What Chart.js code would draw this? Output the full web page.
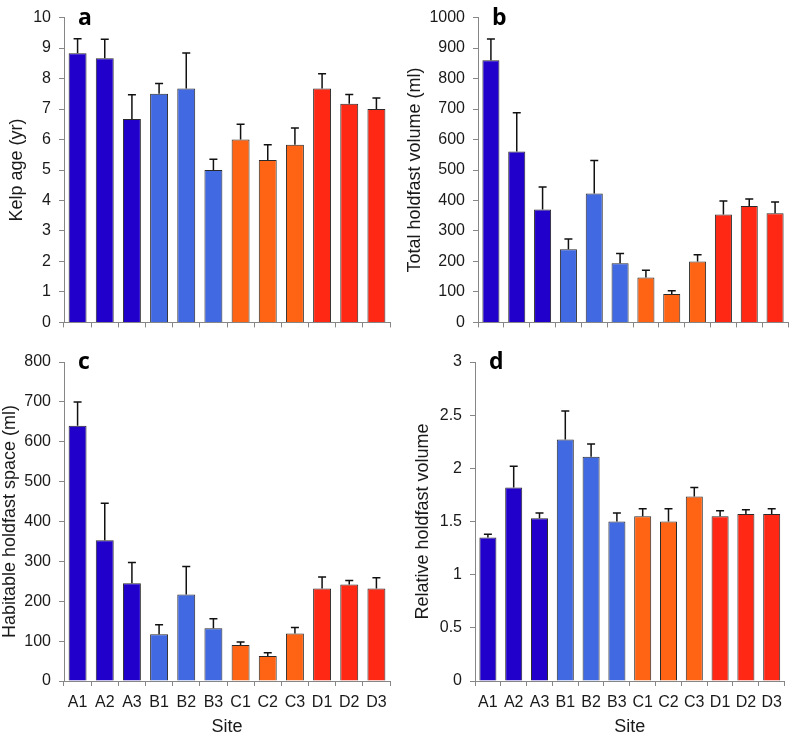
<!DOCTYPE html>
<html>
<head>
<meta charset="utf-8">
<script src="https://cdn.jsdelivr.net/npm/chart.js@4.4.0/dist/chart.umd.min.js"></script>
<style>
  html, body { margin:0; padding:0; background:#fff; }
  body { width:789px; height:736px; position:relative; overflow:hidden; }
  .p { position:absolute; }
</style>
</head>
<body>
<div class="p" style="left:0;top:0;"><canvas id="ca" width="400" height="340"></canvas></div>
<div class="p" style="left:395px;top:0;"><canvas id="cb" width="394" height="340"></canvas></div>
<div class="p" style="left:0;top:340px;"><canvas id="cc" width="400" height="398"></canvas></div>
<div class="p" style="left:395px;top:340px;"><canvas id="cd" width="394" height="398"></canvas></div>
<script>
// ---- data ----
const sites = ['A1','A2','A3','B1','B2','B3','C1','C2','C3','D1','D2','D3'];
const groupOfSite = ['A','A','A','B','B','B','C','C','C','D','D','D'];

const kelpAge     = [8.83, 8.67, 6.67, 7.5, 7.67, 5.0, 6.0, 5.33, 5.83, 7.67, 7.17, 7.0];
const kelpAgeSE   = [0.48, 0.62, 0.8, 0.34, 1.17, 0.35, 0.5, 0.5, 0.55, 0.49, 0.31, 0.36];

const totalVol    = [860, 561, 370, 240, 423, 194, 147, 93, 200, 354, 382, 358];
const totalVolSE  = [70, 127, 74, 34, 108, 32, 24, 11, 22, 44, 23, 37];

const habitSpace  = [640, 353, 245, 117, 217, 132, 90, 63, 119, 232, 242, 232];
const habitSpaceSE= [60, 93, 52, 24, 70, 24, 8, 8, 15, 29, 10, 27];

const relVol      = [1.35, 1.82, 1.53, 2.27, 2.11, 1.50, 1.55, 1.50, 1.735, 1.55, 1.57, 1.57];
const relVolSE    = [0.03, 0.2, 0.05, 0.27, 0.12, 0.08, 0.07, 0.12, 0.085, 0.05, 0.04, 0.05];

const groupColors = { A:'#2200CC', B:'#4169E1', C:'#FF6414', D:'#FF2814' };

// ---- styling ----
const FONT = '"Liberation Sans", Arial, sans-serif';
const AXIS = '#868686';
const TXT = '#1a1a1a';

const errPlugin = {
  id: 'errbars',
  afterDatasetsDraw(chart, args, opts) {
    const ctx = chart.ctx;
    const meta = chart.getDatasetMeta(0);
    const ys = chart.scales.y;
    const vals = chart.data.datasets[0].data;
    const errs = opts.err;
    ctx.save();
    ctx.strokeStyle = '#111';
    ctx.lineWidth = 1.5;
    meta.data.forEach((bar, i) => {
      const x = bar.x;
      const y0 = ys.getPixelForValue(vals[i]);
      const y1 = ys.getPixelForValue(vals[i] + errs[i]);
      ctx.beginPath();
      ctx.moveTo(x, y0);
      ctx.lineTo(x, y1);
      ctx.moveTo(x - 4, y1);
      ctx.lineTo(x + 4, y1);
      ctx.stroke();
    });
    // panel letter
    ctx.fillStyle = '#000';
    ctx.font = 'bold 23px "Open Sans", "Liberation Sans", sans-serif';
    ctx.textBaseline = 'alphabetic';
    ctx.textAlign = 'left';
    ctx.fillText(opts.letter, chart.chartArea.left + 14, chart.chartArea.top + 7);
    ctx.restore();
  }
};

function makeChart(id, vals, errs, letter, yMax, yStep, yTitle, showX, yWidth, pad, titlePad, xHeight) {
  new Chart(document.getElementById(id), {
    type: 'bar',
    data: {
      labels: sites,
      datasets: [{
        data: vals,
        backgroundColor: groupOfSite.map(g => groupColors[g]),
        borderColor: '#2a2a2a',
        borderWidth: 1,
        barPercentage: 0.66,
        categoryPercentage: 1.0
      }]
    },
    options: {
      responsive: false,
      animation: false,
      devicePixelRatio: 1,
      layout: { padding: pad },
      plugins: {
        legend: { display: false },
        tooltip: { enabled: false },
        errbars: { err: errs, letter: letter }
      },
      scales: {
        x: {
          offset: true,
          grid: { display: true, drawOnChartArea: false, drawTicks: true, tickLength: 5, color: AXIS, offset: true },
          border: { display: true, color: AXIS, width: 1 },
          ticks: { display: showX, color: TXT, font: { family: FONT, size: 16 }, padding: 7, maxRotation: 0, autoSkip: false },
          title: { display: showX, text: 'Site', color: TXT, font: { family: FONT, size: 18 }, padding: { top: 0, bottom: 0 } },
          afterFit: s => { s.height = xHeight; }
        },
        y: {
          min: 0, max: yMax,
          grid: { display: true, drawOnChartArea: false, drawTicks: true, tickLength: 5, color: AXIS },
          border: { display: true, color: AXIS, width: 1 },
          ticks: { stepSize: yStep, color: TXT, font: { family: FONT, size: 16 }, padding: 8,
                   callback: v => String(v) },
          title: { display: true, text: yTitle, color: TXT, font: { family: FONT, size: 18, lineHeight: 1.2 }, padding: { top: titlePad, bottom: 0 } },
          afterFit: s => { s.width = yWidth; }
        }
      }
    },
    plugins: [errPlugin]
  });
}

makeChart('ca', kelpAge, kelpAgeSE, 'a', 10, 1, 'Kelp age (yr)', false, 64, { top: 12, right: 10, left: 0, bottom: 0 }, 6, 9);
makeChart('cb', totalVol, totalVolSE, 'b', 1000, 100, 'Total holdfast volume (ml)', false, 83, { top: 12, right: 1, left: 0, bottom: 0 }, 9, 9);
makeChart('cc', habitSpace, habitSpaceSE, 'c', 800, 100, 'Habitable holdfast space (ml)', true, 64, { top: 22, right: 10, left: 0, bottom: 0 }, -1, 57);
makeChart('cd', relVol, relVolSE, 'd', 3, 0.5, 'Relative holdfast volume', true, 80, { top: 22, right: 2, left: 0, bottom: 0 }, 17, 57);
</script>
</body>
</html>
